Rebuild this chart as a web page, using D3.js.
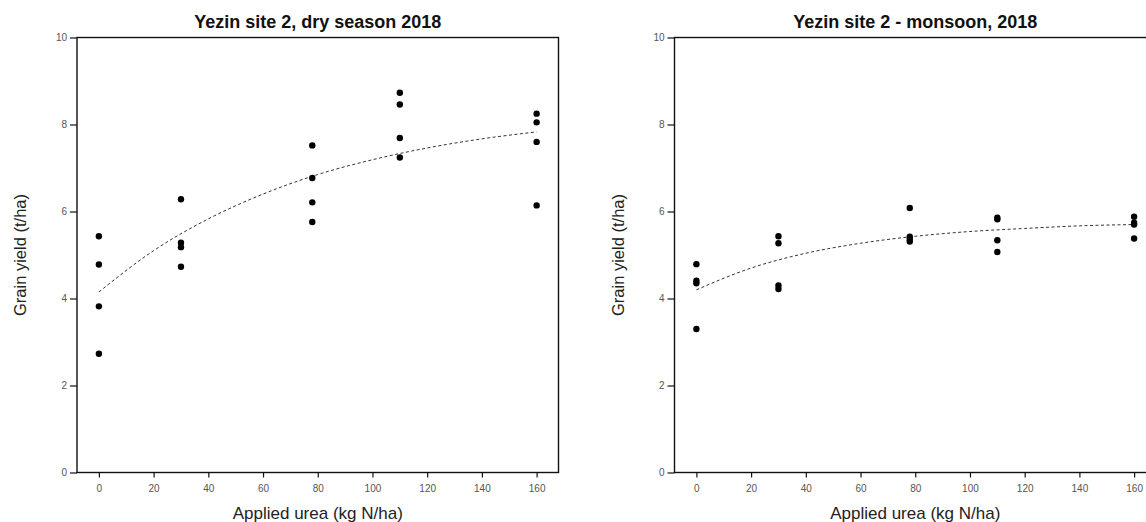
<!DOCTYPE html>
<html>
<head>
<meta charset="utf-8">
<script src="https://cdn.jsdelivr.net/npm/d3@7/dist/d3.min.js"></script>
<style>
  html, body { margin: 0; padding: 0; background: #fff; }
  svg { display: block; }
  .tick text { font-family: "Liberation Sans", Arial, sans-serif; font-size: 10px; fill: #555; }
  .tick line { stroke: #111; stroke-width: 1.2; }
</style>
</head>
<body>
<svg id="chart" width="1146" height="522"></svg>
<script>
// Applied urea rate (kg N/ha) for each plot, and the measured grain yield (t/ha)
const dryN = [0, 0, 0, 0, 30, 30, 30, 30, 78, 78, 78, 78, 110, 110, 110, 110, 160, 160, 160, 160];
const dryYield = [5.43, 4.78, 3.82, 2.73, 6.28, 5.28, 5.18, 4.73, 7.52, 6.77, 6.21, 5.76,
                  8.73, 8.46, 7.69, 7.24, 8.25, 8.05, 7.60, 6.14];

const monN = [0, 0, 0, 0, 30, 30, 30, 30, 78, 78, 78, 78, 110, 110, 110, 110, 160, 160, 160, 160];
const monYield = [4.79, 4.41, 4.35, 3.30, 5.43, 5.27, 4.30, 4.22, 6.08, 5.42, 5.37, 5.31,
                  5.86, 5.82, 5.34, 5.07, 5.88, 5.74, 5.70, 5.38];

// Fitted response curves
const fitN = [0, 20, 40, 60, 80, 100, 120, 140, 160];
const dryFit = [4.15, 5.10, 5.83, 6.40, 6.85, 7.19, 7.46, 7.67, 7.83];
const monFit = [4.20, 4.70, 5.04, 5.27, 5.43, 5.54, 5.61, 5.67, 5.70];

// Axis ticks and labels
const xTicks = [0, 20, 40, 60, 80, 100, 120, 140, 160];
const yTicks = [0, 2, 4, 6, 8, 10];
const titles = ["Yezin site 2, dry season 2018", "Yezin site 2 - monsoon, 2018"];
const xTitle = "Applied urea (kg N/ha)";
const yTitle = "Grain yield (t/ha)";

const svg = d3.select("#chart");
const font = '"Liberation Sans", Arial, sans-serif';

const panels = [
  { left: 77, n: dryN, y: dryYield, fit: dryFit, title: titles[0] },
  { left: 674.5, n: monN, y: monYield, fit: monFit, title: titles[1] }
];
const plotTop = 37.5, plotBottom = 472.5, plotW = 481.5;

panels.forEach(p => {
  const x = d3.scaleLinear().domain([-8, 168]).range([p.left, p.left + plotW]);
  const y = d3.scaleLinear().domain([0, 10]).range([plotBottom, plotTop]);
  const g = svg.append("g");

  // x axis
  const gx = g.append("g")
    .attr("transform", `translate(0,${plotBottom})`)
    .call(d3.axisBottom(x).tickValues(xTicks).tickSize(5).tickPadding(7).tickSizeOuter(0));
  gx.select(".domain").remove();

  // y axis
  const gy = g.append("g")
    .attr("transform", `translate(${p.left},0)`)
    .call(d3.axisLeft(y).tickValues(yTicks).tickSize(7).tickPadding(3).tickSizeOuter(0));
  gy.select(".domain").remove();

  // frame
  g.append("rect")
    .attr("x", p.left).attr("y", plotTop)
    .attr("width", plotW).attr("height", plotBottom - plotTop)
    .attr("fill", "none").attr("stroke", "#111").attr("stroke-width", 1.4);

  // fitted curve
  const line = d3.line()
    .x((d, i) => x(fitN[i]))
    .y(d => y(d))
    .curve(d3.curveMonotoneX);
  g.append("path")
    .datum(p.fit)
    .attr("d", line)
    .attr("fill", "none")
    .attr("stroke", "#333")
    .attr("stroke-width", 1)
    .attr("stroke-dasharray", "3,2.5");

  // observations
  g.selectAll("circle.obs")
    .data(p.y)
    .join("circle")
    .attr("class", "obs")
    .attr("cx", (d, i) => x(p.n[i]))
    .attr("cy", d => y(d))
    .attr("r", 3.2)
    .attr("fill", "#000");

  // titles
  const cx = p.left + plotW / 2;
  g.append("text")
    .attr("x", cx).attr("y", 28)
    .attr("text-anchor", "middle")
    .attr("font-family", font).attr("font-weight", "bold").attr("font-size", 18)
    .attr("fill", "#111")
    .text(p.title);

  g.append("text")
    .attr("x", cx).attr("y", 519)
    .attr("text-anchor", "middle")
    .attr("font-family", font).attr("font-size", 17)
    .attr("fill", "#222")
    .text(xTitle);

  g.append("text")
    .attr("transform", `translate(${p.left - 51},${(plotTop + plotBottom) / 2}) rotate(-90)`)
    .attr("text-anchor", "middle")
    .attr("font-family", font).attr("font-size", 16.5)
    .attr("fill", "#222")
    .text(yTitle);
});
</script>
</body>
</html>
